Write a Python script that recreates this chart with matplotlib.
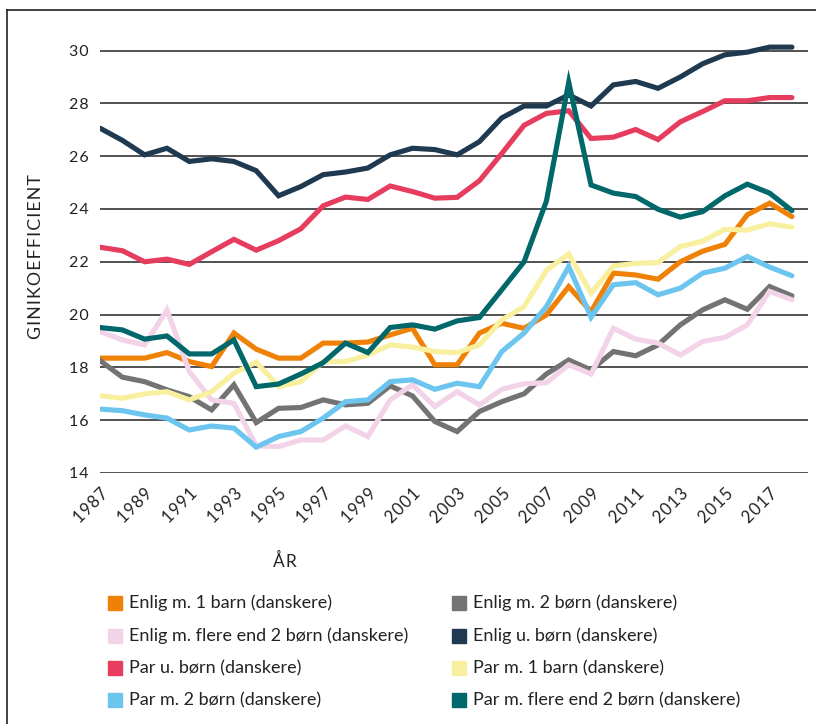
import matplotlib
matplotlib.use("Agg")
import matplotlib.pyplot as plt
from matplotlib.lines import Line2D
from matplotlib.patches import Rectangle

plt.rcParams["font.family"] = ["Lato", "DejaVu Sans"]

years = list(range(1987, 2019))

enlig_1_barn = [18.35, 18.35, 18.35, 18.56, 18.22, 18.03, 19.3, 18.69, 18.35, 18.35,
                18.92, 18.92, 18.96, 19.23, 19.48, 18.1, 18.1, 19.3, 19.67, 19.48,
                19.99, 21.06, 20.11, 21.57, 21.5, 21.34, 22.0, 22.4, 22.66, 23.78,
                24.22, 23.71]
enlig_2_boern = [18.26, 17.63, 17.46, 17.15, 16.89, 16.39, 17.34, 15.91, 16.45, 16.48,
                 16.77, 16.58, 16.64, 17.3, 16.92, 15.95, 15.57, 16.33, 16.7, 17.0,
                 17.75, 18.28, 17.9, 18.6, 18.44, 18.85, 19.61, 20.18, 20.56, 20.2,
                 21.06, 20.71]
enlig_flere = [19.36, 19.04, 18.85, 20.18, 17.84, 16.77, 16.64, 15.03, 15.0, 15.25,
               15.25, 15.78, 15.38, 16.77, 17.34, 16.52, 17.08, 16.58, 17.17, 17.38,
               17.42, 18.1, 17.75, 19.48, 19.07, 18.92, 18.47, 18.98, 19.14, 19.61,
               20.88, 20.56]
enlig_u_boern = [27.06, 26.6, 26.05, 26.3, 25.8, 25.9, 25.8, 25.45, 24.5, 24.85,
                 25.3, 25.4, 25.55, 26.05, 26.3, 26.25, 26.05, 26.55, 27.45, 27.9,
                 27.9, 28.32, 27.9, 28.7, 28.83, 28.57, 29.0, 29.5, 29.84, 29.94,
                 30.13, 30.13]
par_u_boern = [22.55, 22.42, 22.0, 22.1, 21.9, 22.38, 22.85, 22.44, 22.8, 23.25,
               24.12, 24.45, 24.36, 24.87, 24.66, 24.41, 24.44, 25.07, 26.1, 27.17,
               27.62, 27.72, 26.67, 26.72, 27.01, 26.63, 27.3, 27.69, 28.1, 28.1,
               28.22, 28.22]
par_1_barn = [16.93, 16.83, 17.0, 17.08, 16.77, 17.08, 17.78, 18.2, 17.27, 17.46,
              18.22, 18.22, 18.47, 18.85, 18.77, 18.6, 18.56, 18.85, 19.8, 20.3,
              21.67, 22.3, 20.81, 21.84, 21.94, 21.97, 22.58, 22.78, 23.23, 23.2,
              23.44, 23.31]
par_2_boern = [16.42, 16.36, 16.2, 16.08, 15.63, 15.78, 15.7, 14.98, 15.38, 15.57,
               16.08, 16.7, 16.77, 17.46, 17.53, 17.17, 17.4, 17.27, 18.6, 19.3,
               20.3, 21.82, 19.9, 21.13, 21.21, 20.75, 21.0, 21.57, 21.76, 22.2,
               21.8, 21.47]
par_flere = [19.51, 19.42, 19.07, 19.19, 18.51, 18.51, 19.04, 17.27, 17.37, 17.75,
             18.18, 18.92, 18.56, 19.51, 19.61, 19.45, 19.76, 19.89, 20.94, 22.0,
             24.3, 28.8, 24.91, 24.6, 24.47, 23.99, 23.69, 23.9, 24.5, 24.94,
             24.6, 23.94]

labels = [
    "Enlig m. 1 barn (danskere)",
    "Enlig m. 2 børn (danskere)",
    "Enlig m. flere end 2 børn (danskere)",
    "Enlig u. børn (danskere)",
    "Par u. børn (danskere)",
    "Par m. 1 barn (danskere)",
    "Par m. 2 børn (danskere)",
    "Par m. flere end 2 børn (danskere)",
]
series = [enlig_1_barn, enlig_2_boern, enlig_flere, enlig_u_boern,
          par_u_boern, par_1_barn, par_2_boern, par_flere]
colors = ["#EF8106", "#737373", "#F2D3E8", "#1F3A50",
          "#E63D5E", "#F8F09E", "#6CC5EF", "#00686A"]

y_ticks = [14, 16, 18, 20, 22, 24, 26, 28, 30]
x_ticks = list(range(1987, 2019, 2))


def spaced(s):
    # hair spaces between characters for a tracked look
    return "\u200a".join(s)


W, H = 816, 724
fig = plt.figure(figsize=(W / 100, H / 100), dpi=100)
ax = fig.add_axes([100 / W, 1 - 473 / H, 708 / W, (473 - 40) / H])

for vals, col in zip(series, colors):
    ax.plot(years, vals, color=col, lw=3.7,
            solid_joinstyle="miter", solid_capstyle="round")

ax.set_xlim(1987, 2018.72)
ax.set_ylim(14, 30.4)
ax.set_yticks(y_ticks)
ax.set_yticklabels([spaced(str(t)) for t in y_ticks], fontsize=11.5,
                   color="#222222")
ax.set_xticks(x_ticks)
ax.set_xticklabels([spaced(str(t)) for t in x_ticks], rotation=45, ha="right",
                   va="top", rotation_mode="anchor", fontsize=12,
                   color="#222222")
ax.tick_params(length=0)
ax.tick_params(axis="y", pad=8)
ax.tick_params(axis="x", pad=9)
ax.grid(axis="y", color="#222222", lw=1.1)
ax.set_axisbelow(True)
for s in ax.spines.values():
    s.set_visible(False)

ax.set_ylabel(spaced("GINIKOEFFICIENT"), fontsize=12.8,
              color="#222222", labelpad=18)
fig.text(285 / W, 1 - 561 / H, spaced("ÅR"), fontsize=12.5, color="#222222",
         ha="center", va="center")

# legend laid out as two columns of colour squares
col_x = [108, 452]
row_y = [603, 636, 668, 700]
for i, (lab, col) in enumerate(zip(labels, colors)):
    cx = col_x[i % 2]
    cy = row_y[i // 2]
    fig.patches.append(Rectangle((cx / W, 1 - (cy + 7) / H), 14 / W, 14 / H,
                                 transform=fig.transFigure, color=col))
    fig.text((cx + 21) / W, 1 - cy / H, lab, fontsize=13, color="#222222",
             ha="left", va="center")

# frame along the left and top edges
fig.add_artist(Line2D([7 / W, 7 / W], [0, 1 - 10 / H], color="#222222",
                      lw=1.2, transform=fig.transFigure))
fig.add_artist(Line2D([7 / W, 1], [1 - 10 / H, 1 - 10 / H], color="#222222",
                      lw=1.2, transform=fig.transFigure))

fig.savefig("out.png", dpi=100, facecolor="white")
